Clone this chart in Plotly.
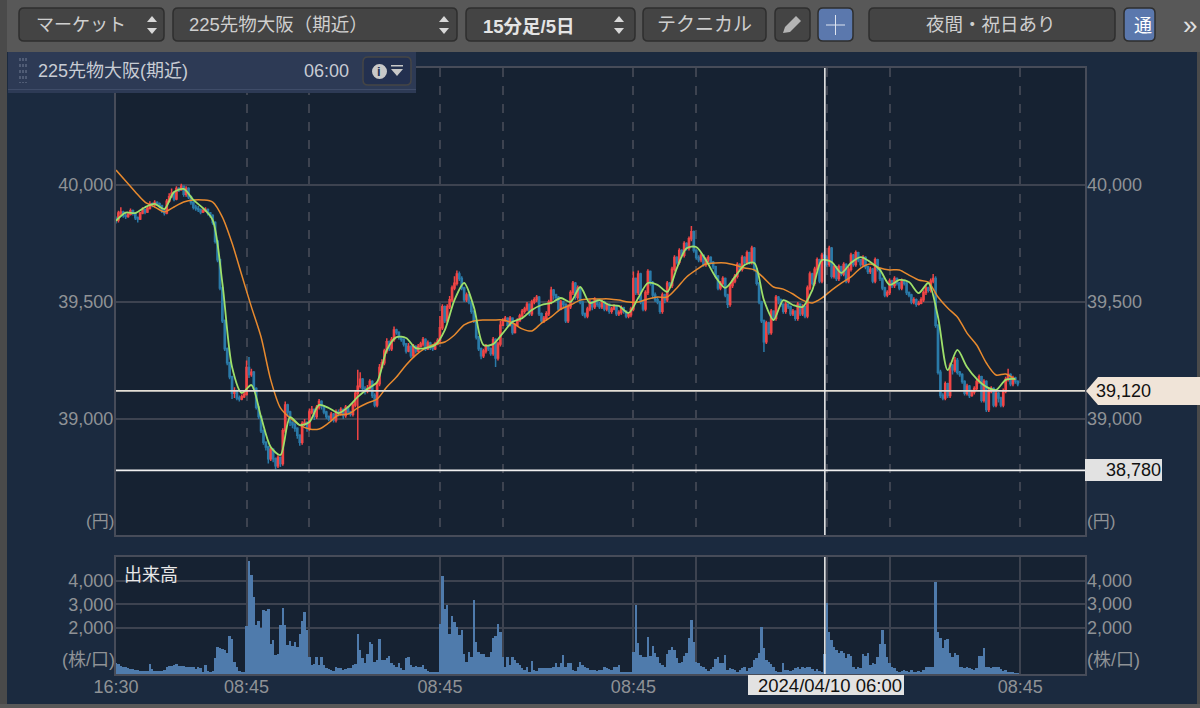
#!/usr/bin/env python
# coding: utf-8

import plotly.graph_objects as go

# 15分足 OHLC, 読み取り値
opens = [
39855,39850,39880,39885,39870,39865,39875,39890,39880,39860,
39855,39880,39895,39885,39900,39920,39915,39925,39920,39910,
39890,39880,39930,39950,39965,39940,39985,39980,39995,39960,
39985,39950,39925,39905,39900,39895,39885,39890,39895,39880,
39870,39840,39760,39680,39560,39420,39300,39240,39180,39110,
39120,39090,39085,39095,39105,39220,39190,39200,39130,39050,
39010,38950,38900,38880,38830,38870,38830,38800,38835,38810,
38950,39060,39030,38985,38975,38960,38930,38900,38980,38985,
38960,39030,39040,39010,39050,39075,39055,39030,39010,39000,
39020,38995,39030,39025,39040,39015,39050,39030,39020,39060,
39110,39140,39170,39130,39120,39130,39160,39100,39060,39150,
39220,39240,39290,39330,39300,39340,39380,39370,39350,39340,
39320,39290,39310,39270,39310,39290,39310,39320,39340,39300,
39325,39305,39300,39320,39335,39390,39480,39420,39480,39510,
39560,39580,39620,39600,39560,39510,39530,39500,39460,39420,
39350,39300,39270,39290,39310,39300,39280,39340,39260,39320,
39400,39420,39430,39400,39430,39370,39400,39420,39440,39460,
39470,39490,39450,39500,39510,39520,39450,39420,39430,39450,
39500,39550,39530,39520,39470,39500,39490,39420,39480,39540,
39580,39520,39560,39500,39450,39440,39470,39500,39480,39510,
39490,39480,39500,39470,39490,39460,39470,39480,39450,39455,
39475,39460,39440,39445,39470,39600,39540,39620,39500,39470,
39540,39630,39580,39530,39510,39500,39460,39530,39510,39580,
39570,39640,39690,39670,39720,39700,39750,39730,39770,39800,
39720,39690,39680,39700,39660,39680,39690,39670,39650,39610,
39560,39580,39600,39530,39490,39570,39590,39610,39660,39640,
39690,39670,39710,39670,39730,39640,39580,39500,39420,39330,
39410,39370,39460,39430,39520,39510,39490,39460,39490,39480,
39450,39460,39430,39490,39450,39480,39440,39560,39620,39580,
39640,39680,39590,39700,39690,39660,39730,39610,39650,39600,
39650,39620,39660,39590,39640,39700,39660,39710,39680,39660,
39690,39650,39630,39640,39590,39680,39640,39600,39560,39530,
39540,39590,39570,39600,39580,39560,39590,39580,39540,39530,
39500,39510,39490,39495,39510,39540,39560,39550,39590,39600,
39400,39200,39100,39090,39150,39100,39230,39210,39250,39200,
39190,39160,39110,39140,39100,39115,39130,39160,39180,39080,
39160,39040,39120,39130,39060,39110,39090,39060,39120,39170,
39190,39150,39175,39160]
highs = [
39865,39890,39905,39890,39880,39885,39900,39895,39885,39865,
39885,39905,39900,39910,39930,39925,39935,39930,39925,39915,
39895,39940,39965,39985,39970,39995,39990,40005,39995,39995,
39990,39955,39930,39915,39910,39900,39900,39905,39900,39885,
39875,39845,39765,39685,39565,39425,39305,39245,39185,39135,
39125,39100,39105,39120,39250,39265,39215,39205,39135,39055,
39015,38955,38905,38885,38880,38875,38835,38845,38840,38960,
39075,39065,39035,38990,38985,38965,38935,38990,39000,38990,
39045,39055,39045,39060,39085,39080,39060,39035,39015,39030,
39025,39040,39040,39050,39045,39060,39055,39035,39070,39120,
39210,39200,39175,39140,39145,39170,39165,39110,39160,39235,
39255,39300,39345,39335,39350,39395,39385,39375,39355,39345,
39325,39325,39315,39320,39315,39320,39330,39350,39345,39335,
39330,39315,39330,39345,39440,39490,39485,39490,39525,39570,
39610,39635,39630,39610,39565,39540,39535,39505,39465,39425,
39355,39305,39300,39320,39315,39305,39350,39345,39330,39420,
39430,39440,39435,39440,39435,39410,39430,39450,39470,39480,
39500,39495,39510,39520,39530,39525,39455,39440,39460,39510,
39565,39555,39535,39525,39510,39505,39495,39490,39550,39590,
39585,39570,39565,39505,39455,39480,39510,39505,39520,39510,
39500,39510,39505,39495,39495,39480,39490,39485,39465,39485,
39480,39465,39455,39480,39630,39605,39635,39625,39510,39550,
39640,39635,39590,39540,39520,39505,39540,39535,39590,39585,
39650,39700,39695,39730,39725,39760,39755,39780,39825,39805,
39725,39700,39710,39700,39690,39700,39695,39675,39655,39615,
39590,39610,39605,39535,39580,39600,39620,39670,39665,39700,
39695,39720,39715,39740,39735,39645,39585,39505,39425,39420,
39415,39470,39465,39530,39525,39515,39495,39500,39495,39485,
39470,39465,39500,39495,39490,39485,39570,39630,39625,39650,
39690,39685,39710,39715,39700,39740,39735,39660,39655,39660,
39655,39670,39665,39650,39710,39705,39720,39715,39685,39700,
39695,39655,39650,39645,39690,39685,39645,39605,39565,39550,
39600,39595,39610,39605,39585,39600,39595,39585,39545,39535,
39520,39515,39505,39520,39550,39570,39565,39600,39620,39610,
39405,39210,39110,39160,39155,39240,39235,39265,39260,39205,
39195,39165,39150,39145,39125,39140,39170,39190,39185,39170,
39165,39130,39140,39135,39120,39115,39095,39130,39180,39215,
39195,39185,39180,39165]
lows = [
39835,39840,39870,39860,39855,39860,39870,39870,39850,39840,
39850,39875,39875,39880,39895,39905,39910,39910,39900,39880,
39870,39875,39925,39945,39930,39935,39970,39975,39950,39950,
39940,39915,39895,39890,39885,39875,39880,39885,39870,39860,
39830,39750,39670,39550,39410,39290,39230,39170,39085,39090,
39080,39075,39080,39090,39100,39175,39180,39120,39040,39000,
38940,38890,38865,38810,38820,38815,38785,38790,38795,38800,
38940,39010,38970,38960,38945,38915,38885,38890,38970,38945,
38950,39020,38995,39000,39040,39040,39020,39000,38990,38990,
38985,38985,39010,39015,39000,39005,39020,39010,39010,39050,
38910,39130,39120,39105,39110,39120,39090,39050,39050,39140,
39225,39230,39280,39290,39290,39330,39360,39340,39330,39310,
39280,39285,39260,39260,39280,39285,39305,39310,39290,39295,
39295,39290,39295,39315,39325,39380,39410,39410,39470,39500,
39550,39570,39590,39550,39500,39500,39490,39450,39410,39340,
39290,39255,39260,39280,39290,39270,39270,39222,39250,39310,
39400,39415,39390,39395,39360,39365,39400,39415,39435,39450,
39460,39440,39440,39490,39500,39440,39410,39410,39420,39440,
39490,39510,39505,39460,39465,39475,39410,39410,39470,39530,
39510,39510,39490,39440,39430,39430,39460,39465,39470,39480,
39470,39470,39460,39460,39450,39450,39465,39440,39440,39445,
39450,39430,39430,39435,39460,39530,39530,39490,39460,39460,
39530,39570,39515,39500,39490,39450,39450,39495,39500,39560,
39560,39630,39660,39660,39690,39690,39720,39720,39760,39710,
39680,39670,39670,39650,39650,39670,39660,39640,39600,39550,
39550,39570,39520,39474,39480,39560,39580,39600,39630,39630,
39660,39660,39660,39660,39630,39570,39490,39410,39286,39320,
39360,39360,39420,39420,39490,39480,39450,39450,39470,39440,
39440,39420,39420,39440,39440,39430,39430,39550,39570,39570,
39630,39580,39580,39680,39650,39650,39600,39600,39590,39590,
39610,39610,39580,39580,39630,39650,39650,39670,39650,39650,
39640,39620,39620,39580,39580,39630,39590,39550,39520,39520,
39530,39560,39560,39570,39550,39550,39570,39530,39520,39490,
39490,39480,39485,39490,39500,39530,39540,39540,39580,39390,
39190,39090,39080,39080,39090,39090,39190,39200,39190,39180,
39150,39100,39100,39090,39095,39105,39120,39150,39070,39070,
39030,39030,39110,39050,39050,39070,39050,39050,39110,39160,
39140,39140,39150,39140]
closes = [
39850,39880,39885,39870,39865,39875,39890,39880,39860,39855,
39880,39895,39885,39900,39920,39915,39925,39920,39910,39890,
39880,39930,39950,39965,39940,39985,39980,39995,39960,39985,
39950,39925,39905,39900,39895,39885,39890,39895,39880,39870,
39840,39760,39680,39560,39420,39300,39240,39180,39110,39120,
39090,39085,39095,39105,39220,39190,39200,39130,39050,39010,
38950,38900,38880,38830,38870,38830,38800,38835,38810,38950,
39060,39030,38985,38975,38960,38930,38900,38980,38985,38960,
39030,39040,39010,39050,39075,39055,39030,39010,39000,39020,
38995,39030,39025,39040,39015,39050,39030,39020,39060,39110,
39140,39170,39130,39120,39130,39160,39100,39060,39150,39220,
39240,39290,39330,39300,39340,39380,39370,39350,39340,39320,
39290,39310,39270,39310,39290,39310,39320,39340,39300,39325,
39305,39300,39320,39335,39390,39480,39420,39480,39510,39560,
39580,39620,39600,39560,39510,39530,39500,39460,39420,39350,
39300,39270,39290,39310,39300,39280,39340,39260,39320,39400,
39420,39430,39400,39430,39370,39400,39420,39440,39460,39470,
39490,39450,39500,39510,39520,39450,39420,39430,39450,39500,
39550,39530,39520,39470,39500,39490,39420,39480,39540,39580,
39520,39560,39500,39450,39440,39470,39500,39480,39510,39490,
39480,39500,39470,39490,39460,39470,39480,39450,39455,39475,
39460,39440,39445,39470,39600,39540,39620,39500,39470,39540,
39630,39580,39530,39510,39500,39460,39530,39510,39580,39570,
39640,39690,39670,39720,39700,39750,39730,39770,39800,39720,
39690,39680,39700,39660,39680,39690,39670,39650,39610,39560,
39580,39600,39530,39490,39570,39590,39610,39660,39640,39690,
39670,39710,39670,39730,39640,39580,39500,39420,39330,39410,
39370,39460,39430,39520,39510,39490,39460,39490,39480,39450,
39460,39430,39490,39450,39480,39440,39560,39620,39580,39640,
39680,39590,39700,39690,39660,39730,39610,39650,39600,39650,
39620,39660,39590,39640,39700,39660,39710,39680,39660,39690,
39650,39630,39640,39590,39680,39640,39600,39560,39530,39540,
39590,39570,39600,39580,39560,39590,39580,39540,39530,39500,
39510,39490,39495,39510,39540,39560,39550,39590,39600,39400,
39200,39100,39090,39150,39100,39230,39210,39250,39200,39190,
39160,39110,39140,39100,39115,39130,39160,39180,39080,39160,
39040,39120,39130,39060,39110,39090,39060,39120,39170,39190,
39150,39175,39160,39150]

# 出来高
volumes = [
470,420,340,300,280,260,230,210,190,160,
150,140,140,150,430,210,140,130,140,130,
180,300,340,330,390,420,340,330,360,300,
310,280,300,220,280,240,100,400,130,100,
120,680,1180,1120,1090,1050,890,1620,1500,520,
310,150,100,90,2050,4860,4240,3300,2100,2300,
1960,2770,2700,2800,1300,1480,810,880,2100,2850,
2100,1240,1430,1200,1380,1170,1740,2300,2670,1880,
740,380,430,720,380,720,380,240,200,170,
140,280,240,240,180,210,240,240,380,450,
1740,1030,670,460,880,1380,1270,530,600,1500,
600,600,670,770,460,390,290,460,240,170,
670,720,390,310,340,290,310,390,200,140,
100,100,100,100,2140,4200,2800,2960,1740,2500,
2240,2030,1680,1880,880,530,960,740,3200,1390,
960,880,880,740,720,960,1570,1630,2140,1810,
740,310,740,390,720,600,460,390,240,170,
310,100,570,170,140,240,240,240,240,240,
240,310,460,310,460,810,310,460,460,170,
140,290,530,390,290,240,170,170,170,140,
170,170,290,240,200,170,290,310,390,60,
60,60,60,60,960,2960,1340,810,740,740,
1600,770,1200,890,720,460,390,290,860,1030,
1170,1030,670,460,530,770,890,1530,2340,1390,
530,460,340,290,200,140,200,290,630,740,
460,460,810,170,240,200,170,100,170,240,
310,140,240,310,600,670,890,2030,1100,600,
530,430,310,140,100,100,490,170,170,140,
170,240,290,200,290,240,310,290,200,140,
200,140,100,880,3070,1810,1460,1170,1030,890,
1000,890,670,860,770,310,200,310,240,860,
770,890,390,460,430,740,1310,1900,1310,740,
460,310,240,140,100,140,170,140,100,170,
100,60,140,100,170,310,290,310,310,3960,
1810,1530,1100,1460,1490,890,740,890,810,310,
290,240,310,240,200,170,240,770,770,1100,
310,290,240,290,310,290,200,140,170,100,
60,60,40,30]

# 移動平均 (4本ごと)
ma_short = [
39847,39882,39880,39905,39919,39897,39970,39983,39936,39901,
39850,39581,39222,39111,39145,39008,38880,38846,39008,38974,
38987,39060,39047,39025,39051,39094,39128,39158,39295,39350,
39346,39303,39303,39316,39380,39508,39581,39479,39316,39320,
39367,39415,39431,39466,39487,39496,39517,39500,39564,39496,
39508,39487,39483,39453,39517,39581,39573,39543,39645,39730,
39735,39679,39607,39560,39607,39658,39667,39508,39423,39508,
39487,39479,39551,39679,39671,39624,39667,39692,39671,39637,
39573,39594,39585,39538,39581,39436,39209,39295,39222,39171,
39137,39124,39167,39171]
ma_long = [
40064,40017,39970,39927,39906,39885,39906,39927,39936,39936,
39927,39863,39752,39615,39479,39350,39167,39047,39004,38974,
38957,38957,38983,39017,39021,39047,39068,39085,39137,39179,
39231,39273,39303,39320,39329,39359,39402,39419,39423,39423,
39423,39410,39385,39376,39410,39436,39470,39487,39508,39513,
39513,39513,39508,39500,39500,39513,39521,39521,39560,39607,
39637,39662,39667,39667,39658,39645,39637,39602,39564,39555,
39534,39508,39496,39517,39551,39581,39607,39645,39662,39645,
39637,39637,39615,39594,39585,39521,39474,39436,39367,39316,
39239,39188,39192,39167]

bars = list(range(len(closes)))
ma_bars = [i * 4 for i in range(len(ma_short))]

session_starts = [54, 134, 214, 294, 374]
session_ends = [80, 160, 240, 320]
x_marks = [0, 54, 80, 134, 160, 214, 240, 294, 320, 374]
x_labels = ["16:30", "08:45", "", "08:45", "", "08:45", "", "", "", "08:45"]

price_ticks = [39000, 39500, 40000]
price_labels = ["39,000", "39,500", "40,000"]
vol_ticks = [2000, 3000, 4000]
vol_labels = ["2,000", "3,000", "4,000"]

cross_bar = 293.2
cross_prices = [39120, 38780]
cross_labels = ["39,120", "38,780"]
cross_date = "2024/04/10 06:00"

W, H = 1200, 708
FONT = "Liberation Sans, Noto Sans CJK JP, sans-serif"
GREY = "#8f9296"
FRAME = "#474c59"
GRID = "#3d4350"


def px(x):
    return x / W


def py(y):
    return 1 - y / H


shapes = []
notes = []


def box(x0, y0, x1, y1, fill, line=None, r=0, layer="below", lw=1):
    # 角丸の四角
    if r:
        path = (f"M {px(x0 + r)} {py(y0)} L {px(x1 - r)} {py(y0)} Q {px(x1)} {py(y0)} {px(x1)} {py(y0 + r)} "
                f"L {px(x1)} {py(y1 - r)} Q {px(x1)} {py(y1)} {px(x1 - r)} {py(y1)} "
                f"L {px(x0 + r)} {py(y1)} Q {px(x0)} {py(y1)} {px(x0)} {py(y1 - r)} "
                f"L {px(x0)} {py(y0 + r)} Q {px(x0)} {py(y0)} {px(x0 + r)} {py(y0)} Z")
        shapes.append(dict(type="path", path=path, xref="paper", yref="paper", fillcolor=fill,
                           line=dict(color=line or fill, width=lw), layer=layer))
    else:
        shapes.append(dict(type="rect", x0=px(x0), x1=px(x1), y0=py(y0), y1=py(y1), xref="paper", yref="paper",
                           fillcolor=fill, line=dict(color=line or fill, width=lw if line else 0), layer=layer))


def poly(points, fill, layer="above"):
    path = "M " + " L ".join(f"{px(a)} {py(b)}" for a, b in points) + " Z"
    shapes.append(dict(type="path", path=path, xref="paper", yref="paper", fillcolor=fill,
                       line=dict(width=0), layer=layer))


def text(x, y, s, size=18, color=GREY, anchor="left", bold=False):
    if bold:
        s = f"<b>{s}</b>"
    notes.append(dict(x=px(x), y=py(y), xref="paper", yref="paper", text=s, showarrow=False, xanchor=anchor,
                      yanchor="middle", font=dict(family=FONT, size=size, color=color)))


def spinner(x, y):
    poly([(x - 5, y - 3), (x + 5, y - 3), (x, y - 9)], "#d8d8d8")
    poly([(x - 5, y + 3), (x + 5, y + 3), (x, y + 9)], "#d8d8d8")


# 背景
box(0, 0, 1200, 52, "#585858")
box(0, 0, 7, 708, "#4a4a4a")
box(0, 704, 1200, 708, "#585858")
box(1197, 52, 1200, 704, "#4a4a4a")

# ツールバー
BTN = "#444444"
BTN_LINE = "#2e2e2e"
for x0, x1 in [(19, 164), (173, 457), (466, 635), (643, 766), (775, 810), (869, 1115)]:
    box(x0, 8, x1, 41, BTN, BTN_LINE, r=5, lw=1.5)
box(818, 8, 853, 41, "#5b78ad", BTN_LINE, r=5, lw=1.5)
box(1124, 8, 1155, 41, "#5b78ad", BTN_LINE, r=5, lw=1.5)
text(34, 25, "マーケット", 18, "#cfcfcf")
text(187, 25, "225先物大阪（期近）", 18.5, "#cfcfcf")
text(481, 26, "15分足/5日", 18.5, "#e4e4e4", bold=True)
text(704, 25, "テクニカル", 19, "#cfcfcf", "center")
text(991, 25, "夜間・祝日あり", 18.5, "#cfcfcf", "center")
text(1132, 26, "通", 18, "#ffffff")
text(1190, 25, "»", 26, "#e0e0e0", "center")
spinner(152, 25)
spinner(444, 25)
spinner(619, 25)
# 鉛筆と十字
poly([(783, 33), (785, 27), (796, 16), (801, 21), (790, 32)], "#b4b4b4")
box(835, 15, 836, 35, "#dfe5f0", layer="above")
box(826, 24.5, 845, 25.5, "#dfe5f0", layer="above")

# 銘柄パネル
box(8, 52, 416, 93, "#2d3a55", layer="above")
box(8, 89, 416, 90, "#3f4c68", layer="above")
for gx in (20, 23, 26):
    shapes.append(dict(type="line", xref="paper", yref="paper", x0=px(gx), x1=px(gx), y0=py(58), y1=py(83),
                       line=dict(color="#5c6880", width=1.5, dash="dot"), layer="above"))
box(363, 57, 411, 85, "#23304f", "#454545", r=5, layer="above", lw=1.5)
shapes.append(dict(type="circle", xref="paper", yref="paper", x0=px(372), x1=px(387), y0=py(79), y1=py(64),
                   fillcolor="#c8c8c8", line=dict(width=0), layer="above"))
text(379.5, 71, "i", 13, "#23304f", "center", True)
poly([(391, 69), (403, 69), (397, 76)], "#c8c8c8")
box(391, 65, 403, 66.5, "#c8c8c8", layer="above")
text(36, 71, "225先物大阪(期近)", 18, "#c8ccd4")
text(351, 71, "06:00", 18, "#c8ccd4", "right")

# 右側の目盛り
for v, s in zip(price_ticks, price_labels):
    text(1085, 185 + (40000 - v) * 0.234, s, 18)
for v, s in zip(vol_ticks, vol_labels):
    text(1085, 674 - v * 0.02325, s, 18)
text(1085, 521, "(円)", 17)
text(84, 521, "(円)", 17)
text(1085, 660, "(株/口)", 18)
text(60, 660, "(株/口)", 18)
text(122, 575, "出来高", 18, "#e8e8e8")

# カーソル値
poly([(1086, 391), (1098, 377), (1200, 377), (1200, 405), (1098, 405)], "#f0e4d8")
text(1094, 391, cross_labels[0], 18, "#111111")
box(1085, 459, 1162, 481, "#e2e2e2", layer="above")
text(1163, 470, cross_labels[1], 18, "#111111", "right")
box(748, 675, 904, 695, "#e2e2e2", layer="above")
text(830, 685, cross_date, 18.5, "#111111", "center")

# 十字線
for v, c in zip(cross_prices, ["#e4dfd6", "#f0f0f0"]):
    shapes.append(dict(type="line", xref="x", yref="y", x0=0, x1=400.8, y0=v, y1=v,
                       line=dict(color=c, width=1.6), layer="above"))
for y_a, y_b in [(68, 535), (557, 674)]:
    shapes.append(dict(type="line", xref="x", yref="paper", x0=cross_bar, x1=cross_bar, y0=py(y_b), y1=py(y_a),
                       line=dict(color="#e8e8e8", width=1.6), layer="above"))

fig = go.Figure()
fig.add_trace(go.Candlestick(x=bars, open=opens, high=highs, low=lows, close=closes, xaxis="x", yaxis="y",
                             increasing=dict(line=dict(color="#f04545", width=1.5), fillcolor="#f04545"),
                             decreasing=dict(line=dict(color="#2a7aa8", width=1.5), fillcolor="#2a7aa8"),
                             whiskerwidth=0, showlegend=False, hoverinfo="skip"))
fig.add_trace(go.Scatter(x=ma_bars, y=ma_long, mode="lines", xaxis="x", yaxis="y", showlegend=False,
                         line=dict(color="#e88a2e", width=1.5, shape="spline", smoothing=0.8), hoverinfo="skip"))
fig.add_trace(go.Scatter(x=ma_bars, y=ma_short, mode="lines", xaxis="x", yaxis="y", showlegend=False,
                         line=dict(color="#9ee06a", width=1.8, shape="spline", smoothing=0.8), hoverinfo="skip"))
fig.add_trace(go.Bar(x=bars, y=volumes, xaxis="x2", yaxis="y2", marker=dict(color="#4f7bac", line=dict(width=0)),
                     showlegend=False, hoverinfo="skip"))

fig.update_layout(
    width=W, height=H, autosize=False, margin=dict(l=0, r=0, t=0, b=0, pad=0),
    paper_bgcolor="#1b2a3f", plot_bgcolor="#162232", bargap=0, shapes=shapes, annotations=notes,
    font=dict(family=FONT, color=GREY, size=18),
    xaxis=dict(domain=[px(116), px(1085)], range=[0, 400.8], anchor="y", rangeslider=dict(visible=False),
               automargin=False, tickvals=session_starts + session_ends, showticklabels=False, ticks="",
               showgrid=True, gridcolor=GRID, griddash="dash", gridwidth=1.5, zeroline=False,
               showline=True, linecolor=FRAME, linewidth=2, mirror=True),
    yaxis=dict(domain=[py(535), py(68)], range=[38504, 40500], anchor="x", tickvals=price_ticks,
               automargin=False, ticktext=price_labels, ticks="", gridcolor=GRID, gridwidth=1.5, zeroline=False,
               ticklabelstandoff=-3,
               showline=True, linecolor=FRAME, linewidth=2, mirror=True, tickfont=dict(size=18, color=GREY)),
    xaxis2=dict(domain=[px(116), px(1085)], range=[0, 400.8], anchor="y2", tickvals=x_marks, ticktext=x_labels,
                automargin=False, ticks="", showgrid=True, gridcolor=GRID, gridwidth=1.5, zeroline=False, tickangle=0,
                ticklabelstandoff=-5,
                showline=True, linecolor=FRAME, linewidth=2, mirror=True, tickfont=dict(size=18, color=GREY)),
    yaxis2=dict(domain=[py(674), py(557)], range=[0, 5032], anchor="x2", tickvals=vol_ticks, ticktext=vol_labels,
                automargin=False, ticks="", gridcolor=GRID, gridwidth=1.5, zeroline=False,
                ticklabelstandoff=-3,
                showline=True, linecolor=FRAME, linewidth=2, mirror=True, tickfont=dict(size=18, color=GREY)),
)

fig.write_html("out.html", config=dict(displayModeBar=False),
               post_script="document.body.style.margin='0';document.body.style.overflow='hidden';")
